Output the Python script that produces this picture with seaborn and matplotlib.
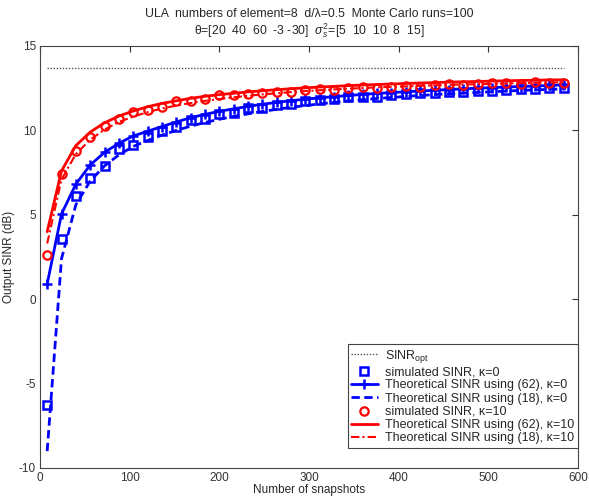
import matplotlib
matplotlib.use("Agg")
import matplotlib.pyplot as plt
import seaborn as sns
import numpy as np
import pandas as pd

# ---------------- data ----------------
snapshots = [8, 24, 40, 56, 72, 88, 104, 120, 136, 152, 168, 184, 200, 216, 232,
             248, 264, 280, 296, 312, 328, 344, 360, 376, 392, 408, 424, 440, 456,
             472, 488, 504, 520, 536, 552, 568, 584]

sinr_opt = [13.68] * len(snapshots)

sim_k0 = [-6.25, 3.56, 6.14, 7.17, 7.9, 8.89, 9.14, 9.6, 9.97, 10.22, 10.62, 10.7,
          10.95, 11.05, 11.3, 11.35, 11.5, 11.55, 11.75, 11.8, 11.85, 11.95, 12.0,
          12.0, 12.1, 12.15, 12.2, 12.2, 12.25, 12.3, 12.35, 12.35, 12.4, 12.45,
          12.45, 12.5, 12.5]

theo62_k0 = [0.9, 5.05, 6.82, 7.95, 8.7, 9.24, 9.67, 9.95, 10.23, 10.5, 10.75, 10.95,
             11.13, 11.28, 11.42, 11.55, 11.66, 11.76, 11.85, 11.93, 12.0, 12.07,
             12.13, 12.19, 12.24, 12.29, 12.33, 12.38, 12.42, 12.46, 12.5, 12.53,
             12.57, 12.6, 12.63, 12.66, 12.7]

theo18_k0 = [-9.0, 2.4, 5.6, 7.0, 7.9, 8.55, 9.05, 9.4, 9.72, 10.0, 10.25, 10.47,
             10.66, 10.83, 10.98, 11.12, 11.25, 11.37, 11.47, 11.57, 11.66, 11.74,
             11.82, 11.89, 11.95, 12.01, 12.07, 12.12, 12.17, 12.21, 12.25, 12.29,
             12.33, 12.37, 12.4, 12.43, 12.46]

sim_k10 = [2.6, 7.4, 8.75, 9.63, 10.28, 10.68, 11.1, 11.2, 11.4, 11.75, 11.75, 11.85,
           12.1, 12.1, 12.15, 12.2, 12.3, 12.25, 12.4, 12.45, 12.4, 12.5, 12.55,
           12.5, 12.6, 12.65, 12.6, 12.7, 12.75, 12.7, 12.75, 12.8, 12.8, 12.75,
           12.85, 12.8, 12.8]

theo62_k10 = [4.0, 7.6, 9.1, 9.9, 10.45, 10.85, 11.15, 11.4, 11.6, 11.75, 11.9, 12.02,
              12.12, 12.2, 12.28, 12.35, 12.41, 12.47, 12.52, 12.57, 12.61, 12.65,
              12.69, 12.72, 12.75, 12.78, 12.81, 12.83, 12.86, 12.88, 12.9, 12.92,
              12.94, 12.96, 12.97, 12.99, 13.0]

theo18_k10 = [3.3, 7.1, 8.6, 9.45, 10.05, 10.5, 10.82, 11.08, 11.3, 11.47, 11.62,
              11.75, 11.86, 11.96, 12.05, 12.13, 12.2, 12.27, 12.33, 12.38, 12.43,
              12.47, 12.51, 12.55, 12.58, 12.61, 12.64, 12.67, 12.7, 12.72, 12.74,
              12.76, 12.78, 12.8, 12.82, 12.84, 12.85]

labels = [r"SINR$_{\mathrm{opt}}$",
          "simulated SINR, κ=0",
          "Theoretical SINR using (62), κ=0",
          "Theoretical SINR using (18), κ=0",
          "simulated SINR, κ=10",
          "Theoretical SINR using (62), κ=10",
          "Theoretical SINR using (18), κ=10"]

xticks = [0, 100, 200, 300, 400, 500, 600]
yticks = [-10, -5, 0, 5, 10, 15]

# ---------------- style ----------------
sns.set_style("white")
plt.rcParams["font.family"] = ["Liberation Sans", "DejaVu Sans"]
plt.rcParams["mathtext.fontset"] = "custom"
plt.rcParams["mathtext.rm"] = "Liberation Sans"
plt.rcParams["mathtext.it"] = "Liberation Sans:italic"

fig = plt.figure(figsize=(5.89, 4.98), dpi=100)
ax = fig.add_axes([40 / 589, 1 - 468 / 498, 538 / 589, 422 / 498])

df = pd.DataFrame({"N": snapshots, "opt": sinr_opt, "s0": sim_k0, "t62_0": theo62_k0,
                   "t18_0": theo18_k0, "s10": sim_k10, "t62_10": theo62_k10,
                   "t18_10": theo18_k10})

blue = (0, 0, 1)
red = (1, 0, 0)

sns.lineplot(data=df, x="N", y="opt", ax=ax, color="#555555", linestyle=(0, (1, 1.2)),
             linewidth=1.0, label=labels[0])
sns.lineplot(data=df, x="N", y="s0", ax=ax, color=blue, linestyle="none", marker="s",
             markersize=6, markerfacecolor="none", markeredgecolor=blue,
             markeredgewidth=1.8, label=labels[1])
sns.lineplot(data=df, x="N", y="t62_0", ax=ax, color=blue, linestyle="-", linewidth=2,
             marker="+", markersize=7, markeredgewidth=1.8, markeredgecolor=blue,
             label=labels[2])
sns.lineplot(data=df, x="N", y="t18_0", ax=ax, color=blue, linestyle=(0, (3, 1.6)),
             linewidth=2, label=labels[3])
sns.lineplot(data=df, x="N", y="s10", ax=ax, color=red, linestyle="none", marker="o",
             markersize=6, markerfacecolor="none", markeredgecolor=red,
             markeredgewidth=1.6, label=labels[4])
sns.lineplot(data=df, x="N", y="t62_10", ax=ax, color=red, linestyle="-", linewidth=2,
             label=labels[5])
sns.lineplot(data=df, x="N", y="t18_10", ax=ax, color=red,
             linestyle=(0, (4, 1.5, 1, 1.5)), linewidth=1.5, label=labels[6])

ax.set_xlim(0, 600)
ax.set_ylim(-10, 15)
ax.set_xticks(xticks)
ax.set_yticks(yticks)
ax.set_xticklabels([str(v) for v in xticks])
ax.set_yticklabels([str(v) for v in yticks])
ax.tick_params(direction="in", length=4, width=0.8, top=True, right=True,
               labelsize=8.5, colors="#333333", pad=3)
for sp in ax.spines.values():
    sp.set_visible(True)
    sp.set_color("#444444")
    sp.set_linewidth(0.8)

ax.set_xlabel("Number of snapshots", fontsize=8.5, labelpad=0)
ax.set_ylabel("Output SINR (dB)", fontsize=8.5, labelpad=3)
ax.set_title("ULA  numbers of element=8  d/λ=0.5  Monte Carlo runs=100\n"
             r"θ=[20  40  60  -3 -30]  $\sigma_s^2$=[5  10  10  8  15]",
             fontsize=8.8, pad=8, linespacing=1.1)

leg = ax.legend(loc="lower right", bbox_to_anchor=(1.0, 0.047), fontsize=9,
                frameon=True, fancybox=False, framealpha=1, edgecolor="#444444",
                borderpad=0.3, labelspacing=0.1, handlelength=2.1,
                handletextpad=0.6, borderaxespad=0.0)
leg.get_frame().set_linewidth(0.8)

fig.savefig("out.png", dpi=100)
